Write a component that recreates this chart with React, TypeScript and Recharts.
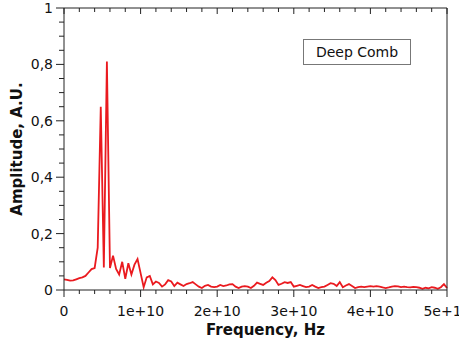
import { LineChart, Line, XAxis, YAxis } from 'recharts';

// Spectrum samples, one every 0.04e10 Hz starting at 0
const freqStep = 4e8;
const amplitude = [
  0.038, 0.036, 0.033, 0.034, 0.038, 0.042, 0.045, 0.05, 0.062, 0.074,
  0.078, 0.15, 0.65, 0.08, 0.81, 0.078, 0.122, 0.075, 0.055, 0.1,
  0.04, 0.095, 0.055, 0.09, 0.11, 0.06, 0.01, 0.045, 0.05, 0.02,
  0.03, 0.025, 0.012, 0.02, 0.035, 0.03, 0.014, 0.026, 0.02, 0.014,
  0.021, 0.024, 0.028, 0.02, 0.012, 0.007, 0.015, 0.018, 0.012, 0.01,
  0.012, 0.018, 0.014, 0.016, 0.02, 0.021, 0.012, 0.007, 0.012, 0.014,
  0.012, 0.007, 0.015, 0.026, 0.022, 0.018, 0.026, 0.032, 0.045, 0.035,
  0.018, 0.022, 0.028, 0.025, 0.028, 0.012, 0.015, 0.018, 0.014, 0.01,
  0.012, 0.018, 0.012, 0.007, 0.01, 0.012, 0.018, 0.024, 0.022, 0.014,
  0.028, 0.01, 0.016, 0.021, 0.014, 0.007, 0.01, 0.012, 0.01, 0.012,
  0.014, 0.012, 0.014, 0.012, 0.009, 0.007, 0.009, 0.012, 0.014, 0.013,
  0.01, 0.012, 0.01, 0.009, 0.011, 0.01, 0.008, 0.004, 0.008, 0.006,
  0.01, 0.008, 0.004, 0.01, 0.021, 0.007,
];

const xTicks = [
  0, 2e9, 4e9, 6e9, 8e9, 1e10, 1.2e10, 1.4e10, 1.6e10, 1.8e10, 2e10,
  2.2e10, 2.4e10, 2.6e10, 2.8e10, 3e10, 3.2e10, 3.4e10, 3.6e10, 3.8e10, 4e10,
  4.2e10, 4.4e10, 4.6e10, 4.8e10, 5e10,
];
const xLabels: Record<string, string> = {
  '0': '0', '10000000000': '1e+10', '20000000000': '2e+10',
  '30000000000': '3e+10', '40000000000': '4e+10', '50000000000': '5e+10',
};
const yTicks = [
  0, 0.05, 0.1, 0.15, 0.2, 0.25, 0.3, 0.35, 0.4, 0.45, 0.5,
  0.55, 0.6, 0.65, 0.7, 0.75, 0.8, 0.85, 0.9, 0.95, 1,
];
const yLabels: Record<string, string> = {
  '0': '0', '0.2': '0,2', '0.4': '0,4', '0.6': '0,6', '0.8': '0,8', '1': '1',
};

const seriesName = 'Deep Comb';
const font = '"DejaVu Sans", Verdana, sans-serif';
const axisColor = '#222';

const data = amplitude.map((a, i) => ({ f: i * freqStep, a }));

function BottomTick({ x, y, payload }: any) {
  const label = xLabels[String(payload.value)];
  return (
    <g>
      <line x1={x} x2={x} y1={y} y2={y + (label ? 7 : 4)} stroke={axisColor} />
      {label && (
        <text x={x} y={y + 26} textAnchor="middle" fontSize={14} fill="#111" fontFamily={font}>
          {label}
        </text>
      )}
    </g>
  );
}

function TopTick({ x, y, payload }: any) {
  const major = xLabels[String(payload.value)] !== undefined;
  return <line x1={x} x2={x} y1={y} y2={y + (major ? 6 : 4)} stroke={axisColor} />;
}

function LeftTick({ x, y, payload }: any) {
  const label = yLabels[String(Math.round(payload.value * 100) / 100)];
  return (
    <g>
      <line x1={x - (label ? 8 : 5)} x2={x} y1={y} y2={y} stroke={axisColor} />
      {label && (
        <text x={x - 11} y={y + 5} textAnchor="end" fontSize={14} fill="#111" fontFamily={font}>
          {label}
        </text>
      )}
    </g>
  );
}

function RightTick({ x, y, payload }: any) {
  const major = yLabels[String(Math.round(payload.value * 100) / 100)] !== undefined;
  return <line x1={x - (major ? 6 : 4)} x2={x} y1={y} y2={y} stroke={axisColor} />;
}

function YTitle({ viewBox }: any) {
  const cy = viewBox.y + viewBox.height / 2;
  const cx = 17;
  return (
    <text
      x={cx}
      y={cy}
      transform={`rotate(-90, ${cx}, ${cy})`}
      textAnchor="middle"
      dominantBaseline="central"
      fontSize={15}
      fontWeight="bold"
      fill="#111"
      fontFamily={font}
    >
      Amplitude, A.U.
    </text>
  );
}

export default function App() {
  return (
    <div style={{ position: 'absolute', left: 0, top: 0, width: 459, height: 339, background: '#fff' }}>
      <LineChart width={459} height={339} data={data} margin={{ top: 0, right: 0, bottom: 0, left: 0 }}>
        <XAxis
          xAxisId="bottom"
          dataKey="f"
          type="number"
          domain={[0, 5e10]}
          ticks={xTicks}
          interval={0}
          height={49}
          tickSize={0}
          tickMargin={0}
          stroke={axisColor}
          tick={<BottomTick />}
          label={{ value: 'Frequency, Hz', position: 'insideBottom', offset: 4, dx: 10, fontSize: 15, fontWeight: 'bold', fill: '#111', fontFamily: font }}
        />
        <XAxis
          xAxisId="top"
          orientation="top"
          dataKey="f"
          type="number"
          domain={[0, 5e10]}
          ticks={xTicks}
          interval={0}
          height={8}
          tickSize={0}
          tickMargin={0}
          stroke={axisColor}
          tick={<TopTick />}
        />
        <YAxis
          yAxisId="left"
          type="number"
          domain={[0, 1]}
          ticks={yTicks}
          interval={0}
          width={64}
          tickSize={0}
          tickMargin={0}
          stroke={axisColor}
          tick={<LeftTick />}
          label={<YTitle />}
        />
        <YAxis
          yAxisId="right"
          orientation="right"
          type="number"
          domain={[0, 1]}
          ticks={yTicks}
          interval={0}
          width={12}
          tickSize={0}
          tickMargin={0}
          stroke={axisColor}
          tick={<RightTick />}
        />
        <Line
          xAxisId="bottom"
          yAxisId="left"
          type="linear"
          dataKey="a"
          name={seriesName}
          stroke="#ea1a1f"
          strokeWidth={1.8}
          dot={false}
          isAnimationActive={false}
        />
      </LineChart>
      <div
        style={{
          position: 'absolute',
          left: 303,
          top: 39,
          width: 108,
          height: 26,
          border: '1px solid #777',
          boxSizing: 'border-box',
          fontFamily: font,
          fontSize: 14,
          color: '#111',
          display: 'flex',
          alignItems: 'center',
          justifyContent: 'center',
        }}
      >
        {seriesName}
      </div>
    </div>
  );
}
